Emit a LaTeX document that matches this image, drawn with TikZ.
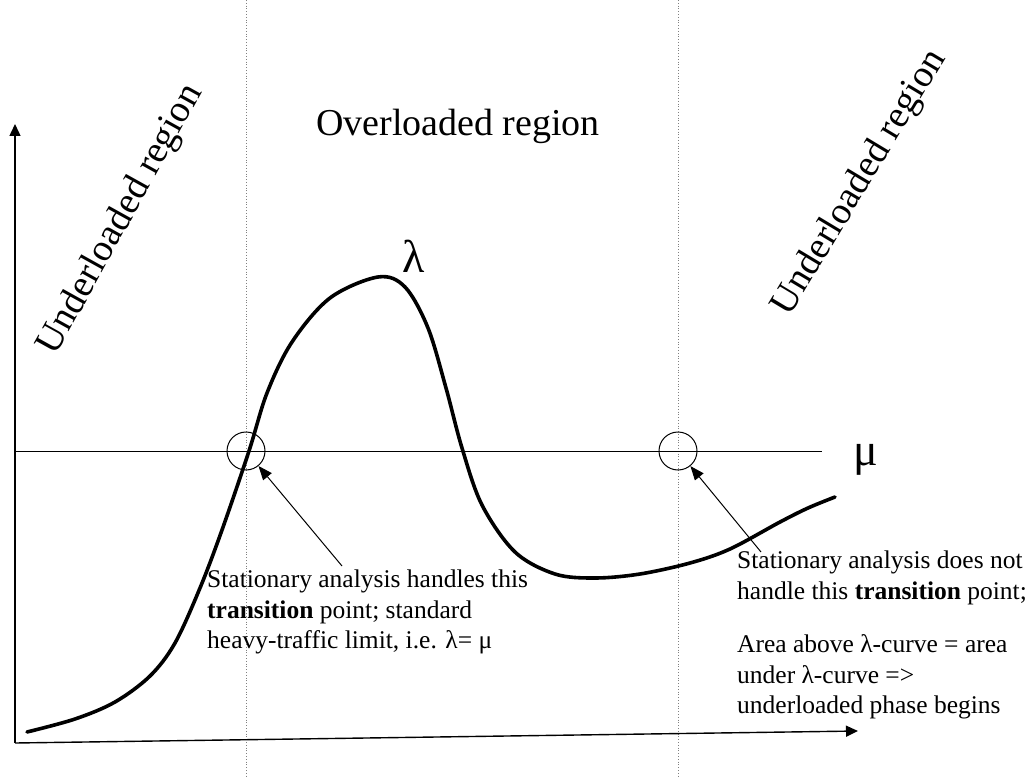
\documentclass[tikz,border=0pt]{standalone}
\usepackage{fontspec}
\setmainfont{Liberation Serif}
\usetikzlibrary{arrows.meta}
\begin{document}
\begin{tikzpicture}[x=1pt,y=-1pt,
  axis/.style={line width=1.4pt,-{Triangle[length=12pt,width=11pt]}},
  level/.style={line width=1pt},
  divider/.style={line width=0.8pt,dotted,gray},
  marker/.style={circle,draw,line width=1pt,minimum size=38pt,inner sep=0pt},
  pointer/.style={line width=1pt,-{Triangle[length=14pt,width=11pt]}},
  curve/.style={line width=3.6pt,line join=round,line cap=round},
  region/.style={font=\fontsize{38}{44}\selectfont,inner sep=0pt},
  symbol/.style={font=\fontsize{46}{52}\selectfont,inner sep=0pt},
  note/.style={font=\fontsize{25.5}{30.5}\selectfont,align=left,inner sep=0pt,anchor=north west}]
\useasboundingbox (0,0) rectangle (1033,778);

% region dividers
\coordinate (d1t) at (246,0);  \coordinate (d1b) at (246,778);
\coordinate (d2t) at (678,0);  \coordinate (d2b) at (678,778);
\draw[divider] (d1t) -- (d1b);
\draw[divider] (d2t) -- (d2b);

% axes
\coordinate (O) at (15,743);
\coordinate (Ytip) at (15,124);
\coordinate (Xtip) at (858,731);
\draw[axis] (O) -- (Ytip);
\draw[axis] (O) -- (Xtip);

% service rate level
\coordinate (muL) at (15,451);
\coordinate (muR) at (822,451);
\draw[level] (muL) -- (muR);
\node[symbol] (mu) at (866,460) {μ};

% arrival rate curve
\draw[curve] plot[smooth,tension=0.55] coordinates {
  (27,732) (75,719) (115,702) (150,676) (175,643) (200,588) (222,530)
  (249,451) (267,393) (292,342) (330,298) (378,277) (405,287) (428,328)
  (446,388) (462,448) (482,505) (515,552) (555,574) (595,578)
  (640,574) (690,563) (730,549) (780,522) (808,508) (835,497)};
\node[symbol] (lam) at (414,256) {λ};

% transition points
\node[marker] (c1) at (246,451) {};
\node[marker] (c2) at (678,451) {};

% region labels
\node[region] (over) at (458,126) {Overloaded region};
\node[region,rotate=61] (underL) at (121,220) {Underloaded region};
\node[region,rotate=59] (underR) at (860,183) {Underloaded region};

% annotations
\node[note] (noteL) at (207,570) {Stationary analysis handles this\\
  \textbf{transition} point; standard\\
  heavy-traffic limit, i.e. λ= μ};
\node[note] (noteR) at (737,551) {Stationary analysis does not\\
  handle this \textbf{transition} point;\\[23pt]
  Area above λ-curve = area\\
  under λ-curve =>\\
  underloaded phase begins};

\coordinate (a1) at (342,566);
\coordinate (a2) at (761,552);
\draw[pointer] (a1) -- (c1);
\draw[pointer] (a2) -- (c2);
\end{tikzpicture}
\end{document}
